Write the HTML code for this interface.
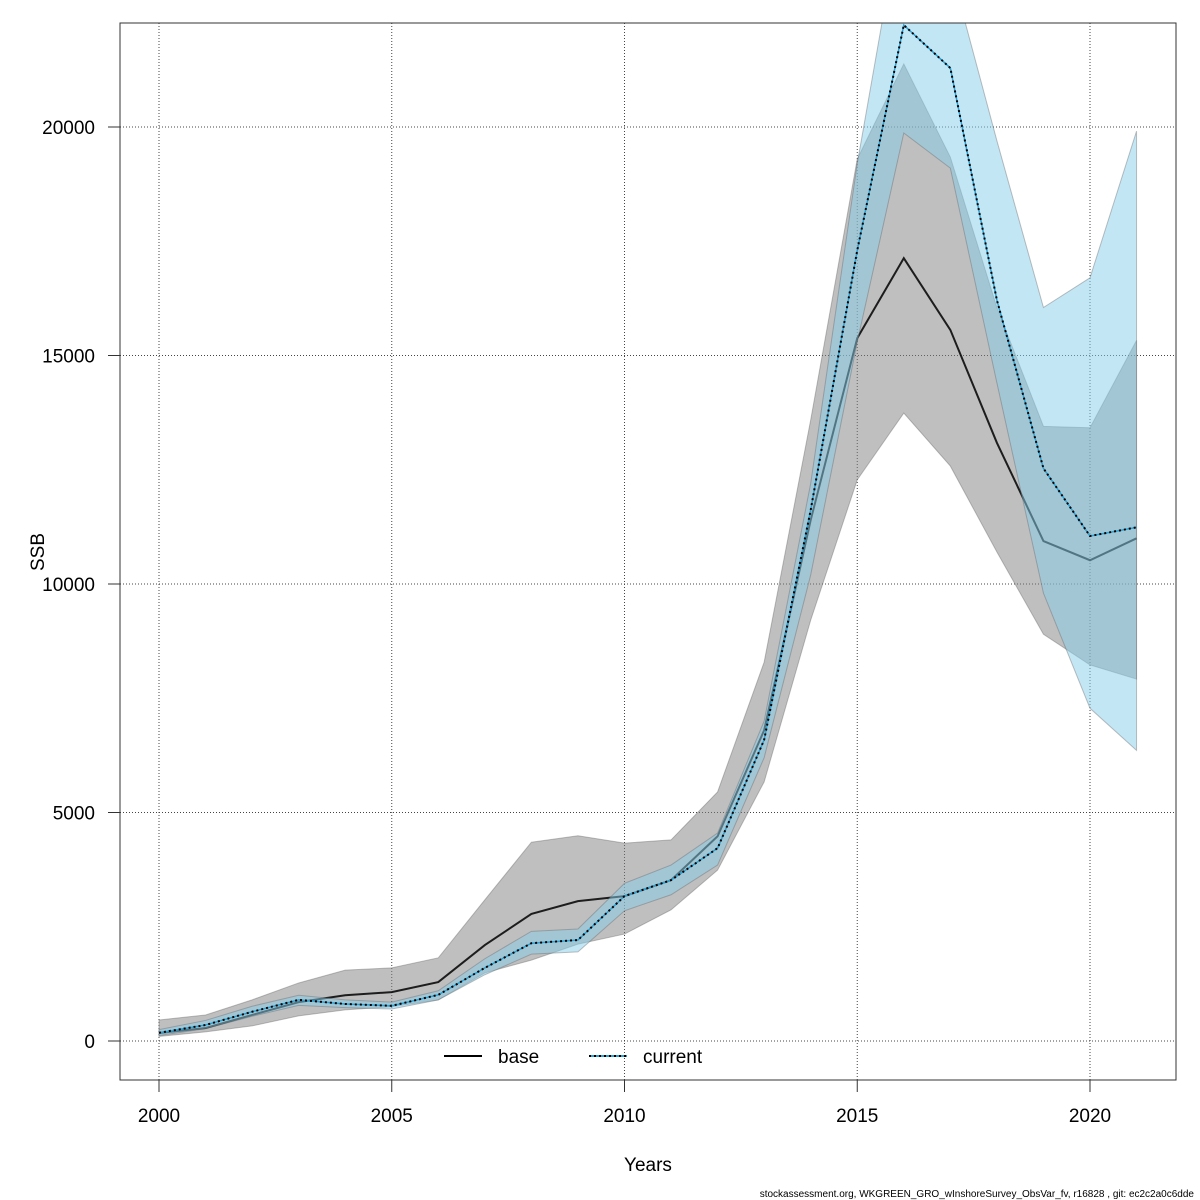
<!DOCTYPE html>
<html><head><meta charset="utf-8"><style>
body{margin:0;background:#fff;}
svg{display:block;font-family:"Liberation Sans","DejaVu Sans",sans-serif;}
</style></head><body>
<svg id="chart" width="1200" height="1200" viewBox="0 0 1200 1200" xmlns="http://www.w3.org/2000/svg">
<defs><clipPath id="pc"><rect x="120" y="23" width="1056" height="1057"/></clipPath></defs>
<g id="grid"></g>
<g id="plot" clip-path="url(#pc)"></g>
<rect x="120" y="23" width="1056" height="1057" fill="none" stroke="#333" stroke-width="1"/>
<g id="axes"></g>
<text x="648" y="1171" font-size="19" text-anchor="middle">Years</text>
<text x="44" y="552" font-size="19" text-anchor="middle" transform="rotate(-90 44 552)">SSB</text>
<g>
<line x1="444" y1="1056" x2="482" y2="1056" stroke="#000" stroke-width="2"/>
<text x="498" y="1063" font-size="19">base</text>
<line x1="589" y1="1056" x2="627" y2="1056" stroke="#29a3d6" stroke-width="2"/>
<line x1="589" y1="1056" x2="627" y2="1056" stroke="#000" stroke-width="2" stroke-dasharray="2,3"/>
<text x="643" y="1063" font-size="19">current</text>
</g>
<text x="1194" y="1197" font-size="10" text-anchor="end">stockassessment.org, WKGREEN_GRO_wInshoreSurvey_ObsVar_fv, r16828 , git: ec2c2a0c6dde</text>
</svg>
<script>
const years=[2000,2001,2002,2003,2004,2005,2006,2007,2008,2009,2010,2011,2012,2013,2014,2015,2016,2017,2018,2019,2020,2021];
const baseSSB=[175,285,570,850,1000,1070,1290,2100,2780,3060,3170,3520,4480,6800,11400,15380,17130,15560,13090,10940,10520,11000];
const baseHigh=[460,570,900,1270,1550,1600,1820,3090,4350,4490,4330,4400,5450,8290,13590,19300,21380,19340,16050,13450,13420,15330];
const baseLow=[100,200,330,550,680,750,900,1490,1770,2120,2340,2870,3740,5670,9210,12280,13740,12580,10700,8900,8230,7920];
const curSSB=[180,350,640,900,810,770,1010,1600,2140,2210,3170,3520,4220,6590,11620,17300,22230,21290,16210,12530,11050,11240];
const curHigh=[250,450,760,1000,900,850,1100,1800,2400,2450,3450,3850,4550,7000,12200,19200,25000,23500,19700,16050,16700,19910];
const curLow=[120,270,540,780,730,700,900,1450,1900,1950,2850,3200,3850,6200,10200,15300,19870,19100,14400,9800,7280,6360];
const xTicks=[2000,2005,2010,2015,2020];
const yTicks=[0,5000,10000,15000,20000];
const NS="http://www.w3.org/2000/svg";
const X=y=>159+(y-2000)*(1090-159)/20;
const Y=v=>1041-v*(1041-127)/20000;
function mk(tag,attrs,parent){const e=document.createElementNS(NS,tag);for(const k in attrs)e.setAttribute(k,attrs[k]);parent.appendChild(e);return e;}
const grid=document.getElementById('grid'),plot=document.getElementById('plot'),axes=document.getElementById('axes');
xTicks.forEach(t=>{
 const g=mk('line',{x1:X(t),x2:X(t),y1:23,y2:1080,stroke:'#444','stroke-width':1,'stroke-dasharray':'1,2'},grid);
 
 
 const tk=mk('line',{x1:X(t),x2:X(t),y1:1080,y2:1092,stroke:'#333'},axes);
 
 
 const tx=mk('text',{x:X(t),y:1122,'font-size':19,'text-anchor':'middle'},axes);
 tx.textContent=t;
 
 
});
yTicks.forEach(t=>{
 const g=mk('line',{x1:120,x2:1176,y1:Y(t),y2:Y(t),stroke:'#444','stroke-width':1,'stroke-dasharray':'1,2'},grid);
 
 
 const tk=mk('line',{x1:108,x2:120,y1:Y(t),y2:Y(t),stroke:'#333'},axes);
 
 
 const tx=mk('text',{x:95,y:Y(t)+7,'font-size':19,'text-anchor':'end'},axes);
 tx.textContent=t;
 
 
});
function band(hi,lo,fill){
 let d='M'+years.map((y,i)=>X(y)+','+Y(hi[i])).join('L');
 for(let i=years.length-1;i>=0;i--)d+='L'+X(years[i])+','+Y(lo[i]);
 return mk('path',{d:d+'Z',fill:fill,stroke:'rgba(100,100,100,0.4)','stroke-width':1},plot);
}
function pts(a){return years.map((y,i)=>X(y)+','+Y(a[i])).join(' ');}
const bb=band(baseHigh,baseLow,'rgba(127,127,127,0.5)');


const bl=mk('polyline',{points:pts(baseSSB),fill:'none',stroke:'rgba(0,0,0,0.85)','stroke-width':2},plot);


const cb=band(curHigh,curLow,'rgba(135,206,235,0.5)');


const cl=mk('polyline',{points:pts(curSSB),fill:'none',stroke:'#29a3d6','stroke-width':1.5},plot);


const cd=mk('polyline',{points:pts(curSSB),fill:'none',stroke:'#000','stroke-width':2,'stroke-dasharray':'2,3'},plot);


</script>
</body></html>
